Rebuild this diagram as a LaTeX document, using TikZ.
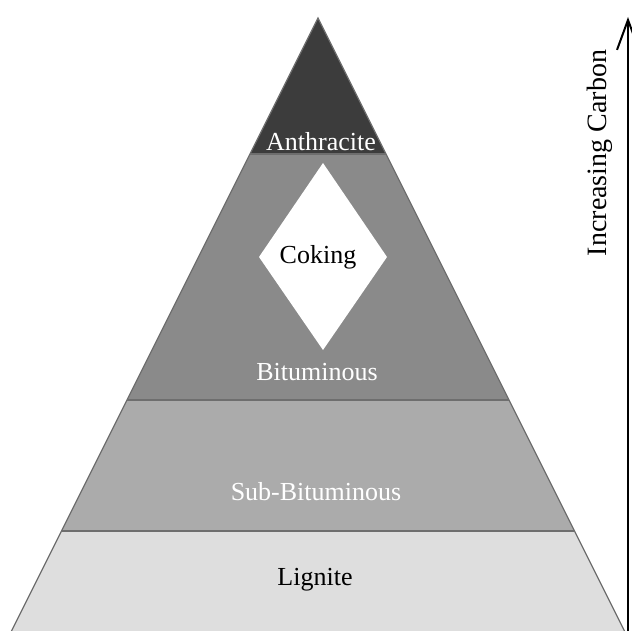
\documentclass[tikz,border=0pt]{standalone}
\usepackage{fontspec}
\setmainfont{Liberation Serif}
\usetikzlibrary{arrows.meta}
\definecolor{anth}{HTML}{3C3C3C}
\definecolor{bitu}{HTML}{8A8A8A}
\definecolor{subb}{HTML}{ABABAB}
\definecolor{lign}{HTML}{DEDEDE}
\definecolor{edge}{HTML}{6E6E6E}
\tikzset{
  lbl/.style={font=\fontsize{13}{15}\selectfont, inner sep=0pt},
  whitelbl/.style={lbl, text=white},
  blacklbl/.style={lbl, text=black},
  layerline/.style={draw=edge, line width=0.8pt},
}
\begin{document}
\begin{tikzpicture}[x=0.5pt,y=-0.5pt]
\useasboundingbox (0,0) rectangle (632,631);
\coordinate (apex) at (318,18);
\coordinate (bl) at (11.5,631);
\coordinate (br) at (624.5,631);
\begin{scope}
  \clip (apex) -- (br) -- (bl) -- cycle;
  \fill[anth] (0,0) rectangle (632,154);
  \fill[bitu] (0,154) rectangle (632,400);
  \fill[subb] (0,400) rectangle (632,531);
  \fill[lign] (0,531) rectangle (632,631);
  \draw[layerline] (0,154) -- (632,154);
  \draw[layerline] (0,400) -- (632,400);
  \draw[layerline] (0,531) -- (632,531);
\end{scope}
\draw[edge, line width=0.6pt] (bl) -- (apex) -- (br);
% coking diamond
\fill[white] (323,163) -- (387,257) -- (323,350) -- (259,257) -- cycle;
\node[whitelbl] (anthracite) at (321,142) {Anthracite};
\node[blacklbl] (coking) at (318,257) {Coking};
\node[whitelbl] (bituminous) at (317,372) {Bituminous};
\node[whitelbl] (subbit) at (316,492) {Sub-Bituminous};
\node[blacklbl] (lignite) at (315,580) {Lignite};
% arrow
\coordinate (abot) at (628,631);
\coordinate (atop) at (628,17);
\draw[line width=1pt, -{Straight Barb[length=15pt,width=11pt,line width=1pt]}] (abot) -- (atop);
\node[blacklbl, font=\fontsize{14}{16}\selectfont, rotate=90] (carbon) at (600,153) {Increasing Carbon};
\end{tikzpicture}
\end{document}
